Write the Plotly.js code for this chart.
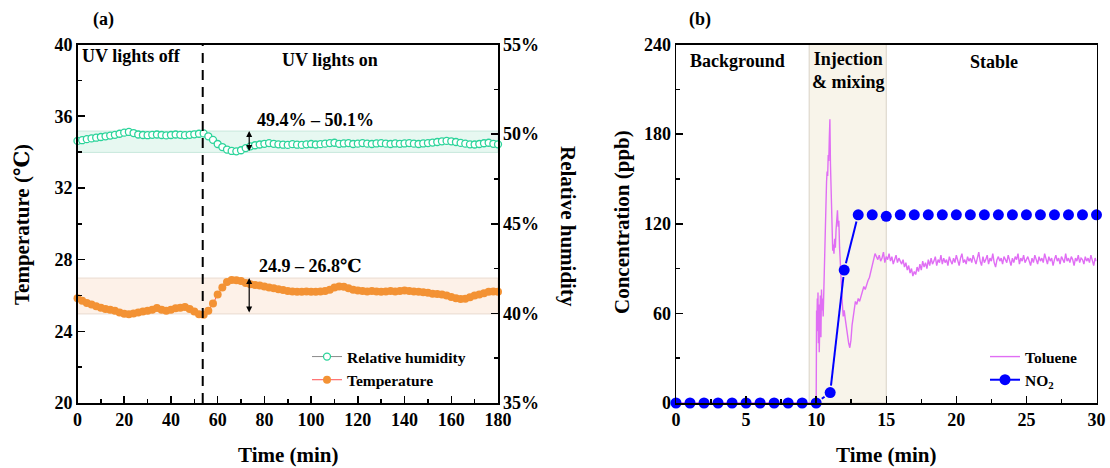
<!DOCTYPE html>
<html><head><meta charset="utf-8">
<script src="https://cdn.plot.ly/plotly-3.0.1.min.js"></script>
<style>html,body{margin:0;padding:0;background:#fff}#chart{width:1110px;height:468px}</style>
</head><body><div id="chart"></div>
<script>
// ---------- Panel (a) data ----------
const timeA = [0,2,4,6,8,10,12,14,16,18,20,22,24,26,28,30,32,34,36,38,40,42,44,46,48,50,52,54,56,58,60,62,64,66,68,70,72,74,76,78,80,82,84,86,88,90,92,94,96,98,100,102,104,106,108,110,112,114,116,118,120,122,124,126,128,130,132,134,136,138,140,142,144,146,148,150,152,154,156,158,160,162,164,166,168,170,172,174,176,178,180];
const humidity = [49.62,49.66,49.72,49.76,49.80,49.84,49.88,49.92,49.96,50.02,50.08,50.12,50.06,49.98,49.95,49.94,49.96,49.98,49.95,49.93,49.95,49.98,49.96,49.94,49.96,49.99,50.02,50.04,49.88,49.68,49.45,49.28,49.14,49.06,49.04,49.10,49.22,49.32,49.38,49.42,49.46,49.50,49.46,49.43,49.41,49.40,49.44,49.41,49.40,49.43,49.45,49.42,49.44,49.47,49.50,49.52,49.46,49.48,49.50,49.45,49.47,49.50,49.47,49.45,49.48,49.50,49.47,49.45,49.48,49.46,49.48,49.50,49.47,49.45,49.48,49.50,49.53,49.56,49.60,49.62,49.60,49.56,49.51,49.47,49.43,49.42,49.45,49.49,49.52,49.46,49.43];
const temperature = [25.84,25.70,25.58,25.50,25.40,25.32,25.25,25.20,25.15,25.05,24.98,24.95,25.00,25.05,25.10,25.15,25.20,25.30,25.20,25.15,25.20,25.28,25.32,25.35,25.25,25.10,24.95,24.92,25.15,25.55,26.05,26.45,26.75,26.86,26.85,26.80,26.70,26.62,26.58,26.55,26.50,26.45,26.40,26.35,26.30,26.25,26.22,26.20,26.20,26.22,26.20,26.20,26.22,26.25,26.32,26.45,26.50,26.48,26.40,26.32,26.28,26.25,26.22,26.25,26.22,26.20,26.22,26.25,26.22,26.25,26.28,26.25,26.22,26.20,26.18,26.15,26.10,26.08,26.05,26.00,25.92,25.85,25.80,25.82,25.90,26.00,26.05,26.12,26.20,26.22,26.20];
const rhBand = [48.98, 50.17];
const tempBand = [24.97, 26.97];
const lightsOnTime = 53.6;
const arrowTime = 73.5;

// ---------- Panel (b) data ----------
const tolEarlyTime = [0,10.0,10.03,10.05,10.08,10.1,10.13,10.16,10.19,10.22,10.26,10.3,10.34,10.38,10.42,10.46,10.5,10.55,10.6,10.65,10.7,10.74,10.78,10.82,10.86,10.9,10.94,10.98,11.02,11.06,11.1,11.14,11.18,11.22,11.27,11.32,11.37,11.42,11.47,11.52,11.57,11.62,11.67,11.72,11.77,11.82,11.87,11.93,12.0,12.08,12.16,12.24,12.32,12.4,12.48,12.56,12.64,12.72,12.8,12.9,13.0,13.1,13.2,13.3,13.4,13.5,13.6,13.7,13.8,13.9,14.0,14.1,14.2,14.3];
const tolEarly = [0,0,62,48,70,52,74,40,66,34,58,72,44,76,62,70,58,82,100,122,138,148,155,152,166,162,178,190,160,148,140,112,102,106,100,110,104,116,124,129,118,122,104,92,84,72,66,58,62,56,50,44,40,37,42,52,58,64,68,66,70,68,72,74,78,76,80,82,84,88,90,94,100,98];
const tolStableStart = 14.4, tolStableStep = 0.1;
const tolStable = [96,99,95,97,101,94,98,
 96,100,95,98,93,97,99,94,97,95,
 93,96,91,94,89,92,87,90,85,88,
 86,91,88,93,89,95,91,94,90,96,
 92,97,93,95,98,92,96,94,99,93,
 97,94,96,92,98,95,93,97,94,99,
 95,92,97,100,94,96,93,98,95,97,
 94,99,96,93,97,101,95,92,98,94,
 96,99,93,97,95,100,94,91,96,98,
 95,97,93,98,96,94,99,95,92,97,
 94,98,96,100,93,97,95,99,94,96,
 98,95,92,97,94,99,96,93,98,95,
 97,94,100,96,93,98,95,97,92,96,
 99,95,97,93,98,96,94,100,95,97,
 94,98,96,92,97,95,99,94,97,96,
 93,98,95,97,94,99,96,92,97,95];
const no2Time = [0,1,2,3,4,5,6,7,8,9,10,11,12,13,14,15,16,17,18,19,20,21,22,23,24,25,26,27,28,29,30];
const no2 = [0,0,0,0,0,0,0,0,0,0,0,7,89,126,126,125,126,126,126,126,126,126,126,126,126,126,126,126,126,126,126];
const injectionWindow = [9.5, 15];

// ---------- layout geometry ----------
const W = 1110, H = 468;
const domA = [77.5/W, 498/W], domB = [676/W, 1096.5/W];
const domY = [1 - 403/H, 1 - 44.5/H];

// Toluene series
const tolX = tolEarlyTime.slice(), tolY = tolEarly.slice();
tolStable.forEach((v, i) => { tolX.push(+(tolStableStart + i*tolStableStep).toFixed(2)); tolY.push(v); });

// NO2 connecting line with a gap around each symbol (derived from the data)
const pxPerX = (domB[1]-domB[0])*W/30, pxPerY = (domY[1]-domY[0])*H/240, gap = 7;
const segX = [], segY = [];
for (let i = 0; i < no2Time.length - 1; i++) {
  const dxu = no2Time[i+1]-no2Time[i], dyu = no2[i+1]-no2[i];
  const d = Math.hypot(dxu*pxPerX, dyu*pxPerY);
  if (d > 2*gap + 0.5) {
    const f = gap/d;
    segX.push(no2Time[i]+dxu*f, no2Time[i+1]-dxu*f, null);
    segY.push(no2[i]+dyu*f, no2[i+1]-dyu*f, null);
  }
}

const FONT = 'Liberation Serif, Times New Roman, DejaVu Serif, serif';
const traces = [
  {x: timeA, y: humidity, yaxis: 'y2', xaxis: 'x', name: 'Relative humidity', mode: 'lines+markers',
   line: {color: '#8a8a8a', width: 1}, cliponaxis: false,
   marker: {symbol: 'circle', size: 7, color: '#ffffff', line: {color: '#2bd49a', width: 1.3}}},
  {x: timeA, y: temperature, yaxis: 'y', xaxis: 'x', name: 'Temperature', mode: 'lines+markers',
   line: {color: '#ff5050', width: 1}, cliponaxis: false,
   marker: {symbol: 'circle', size: 8, color: '#f39234'}},
  {x: tolX, y: tolY, xaxis: 'x2', yaxis: 'y3', name: 'Toluene', mode: 'lines', legend: 'legend2',
   line: {color: '#e06ef4', width: 1.4}, cliponaxis: false},
  {x: segX, y: segY, xaxis: 'x2', yaxis: 'y3', name: 'NO2 line', mode: 'lines', showlegend: false,
   connectgaps: false, cliponaxis: false, line: {color: '#0000ff', width: 2}},
  {x: no2Time, y: no2, xaxis: 'x2', yaxis: 'y3', name: 'NO2 points', mode: 'markers', showlegend: false,
   cliponaxis: false, marker: {color: '#0000ff', size: 11}},
  {x: [null], y: [null], xaxis: 'x2', yaxis: 'y3', name: 'NO<sub>2</sub>', mode: 'lines+markers', legend: 'legend2',
   line: {color: '#0000ff', width: 2}, marker: {color: '#0000ff', size: 11}}
];

const axCommon = {showline: true, linecolor: '#000', linewidth: 1.5, ticks: 'inside', ticklen: 7, tickwidth: 1.5,
  tickcolor: '#000', showgrid: false, zeroline: false,
  tickfont: {family: FONT, size: 18, color: '#000', weight: 'bold'}};

const ann = (text, x, y, opts = {}) => Object.assign({text, x: x/W, y: 1 - y/H, xref: 'paper', yref: 'paper',
  showarrow: false, font: {family: FONT, size: 18, color: '#000', weight: 'bold'}, xanchor: 'center', yanchor: 'middle'}, opts);
const bigFont = {family: FONT, size: 21, color: '#000', weight: 'bold'};

const layout = {
  width: W, height: H, margin: {l: 0, r: 0, t: 0, b: 0},
  paper_bgcolor: '#fff', plot_bgcolor: 'rgba(0,0,0,0)',
  font: {family: FONT, color: '#000'},
  xaxis: Object.assign({}, axCommon, {domain: domA, range: [0, 180], dtick: 20, tick0: 0, mirror: true, anchor: 'y',
    minor: {dtick: 10, ticks: 'inside', ticklen: 4, tickwidth: 1.5, tickcolor: '#000'}}),
  yaxis: Object.assign({}, axCommon, {domain: domY, range: [20, 40], dtick: 4, tick0: 20, anchor: 'x',
    minor: {dtick: 2, ticks: 'inside', ticklen: 4, tickwidth: 1.5, tickcolor: '#000'}}),
  yaxis2: Object.assign({}, axCommon, {overlaying: 'y', side: 'right', range: [35, 55], dtick: 5, tick0: 35, anchor: 'x',
    ticksuffix: '%', minor: {dtick: 2.5, ticks: 'inside', ticklen: 4, tickwidth: 1.5, tickcolor: '#000'}}),
  xaxis2: Object.assign({}, axCommon, {domain: domB, range: [0, 30], dtick: 5, tick0: 0, mirror: true, anchor: 'y3',
    minor: {dtick: 2.5, ticks: 'inside', ticklen: 4, tickwidth: 1.5, tickcolor: '#000'}}),
  yaxis3: Object.assign({}, axCommon, {domain: domY, range: [0, 240], dtick: 60, tick0: 0, mirror: true, anchor: 'x2',
    minor: {dtick: 30, ticks: 'inside', ticklen: 4, tickwidth: 1.5, tickcolor: '#000'}}),
  legend: {x: 307/W, y: 1 - 340/H, xanchor: 'left', yanchor: 'top', bgcolor: 'rgba(0,0,0,0)',
    font: {family: FONT, size: 15.5, color: '#000', weight: 'bold'}, tracegroupgap: 0},
  legend2: {x: 985/W, y: 1 - 340/H, xanchor: 'left', yanchor: 'top', bgcolor: 'rgba(0,0,0,0)',
    font: {family: FONT, size: 15.5, color: '#000', weight: 'bold'}},
  showlegend: true,
  shapes: [
    {type: 'rect', xref: 'x', yref: 'y2', x0: 0, x1: 180, y0: rhBand[0], y1: rhBand[1], layer: 'below',
     fillcolor: '#e7f8f1', line: {color: '#c8e8dc', width: 1}},
    {type: 'rect', xref: 'x', yref: 'y', x0: 0, x1: 180, y0: tempBand[0], y1: tempBand[1], layer: 'below',
     fillcolor: '#fdf1e8', line: {color: '#eadbd0', width: 1}},
    {type: 'line', xref: 'x', yref: 'y domain', x0: lightsOnTime, x1: lightsOnTime, y0: 0, y1: 1,
     line: {color: '#000', width: 2, dash: '10px,7px'}},
    {type: 'rect', xref: 'x2', yref: 'y3 domain', x0: injectionWindow[0], x1: injectionWindow[1], y0: 0, y1: 1, layer: 'below',
     fillcolor: '#f8f4ea', line: {color: '#d9d2c6', width: 1}}
  ],
  annotations: [
    ann('(a)', 103, 20),
    ann('(b)', 700, 20),
    ann('UV lights off', 80, 56, {xanchor: 'left'}),
    ann('UV lights on', 330, 60),
    ann('49.4% – 50.1%', 255, 120, {xanchor: 'left'}),
    ann('24.9 – 26.8℃', 257, 266, {xanchor: 'left'}),
    ann('Background', 737, 61),
    ann('Injection<br>& mixing', 848, 70),
    ann('Stable', 994, 62),
    ann('Time (min)', 288, 455, {font: bigFont}),
    ann('Time (min)', 886, 455, {font: bigFont}),
    ann('Temperature (℃)', 22, 225, {textangle: -90, font: bigFont}),
    ann('Relative humidity', 568, 226, {textangle: 90, font: bigFont}),
    ann('Concentration (ppb)', 622, 222, {textangle: -90, font: bigFont}),
    {x: arrowTime, y: rhBand[1], xref: 'x', yref: 'y2', ax: arrowTime, ay: rhBand[0], axref: 'x', ayref: 'y2',
     text: '', showarrow: true, arrowhead: 2, arrowside: 'end+start', arrowsize: 1, arrowwidth: 1.2, arrowcolor: '#000'},
    {x: arrowTime, y: tempBand[1], xref: 'x', yref: 'y', ax: arrowTime, ay: tempBand[0], axref: 'x', ayref: 'y',
     text: '', showarrow: true, arrowhead: 2, arrowside: 'end+start', arrowsize: 1, arrowwidth: 1.2, arrowcolor: '#000'}
  ]
};

Plotly.newPlot('chart', traces, layout, {staticPlot: true, displayModeBar: false});
</script></body></html>
